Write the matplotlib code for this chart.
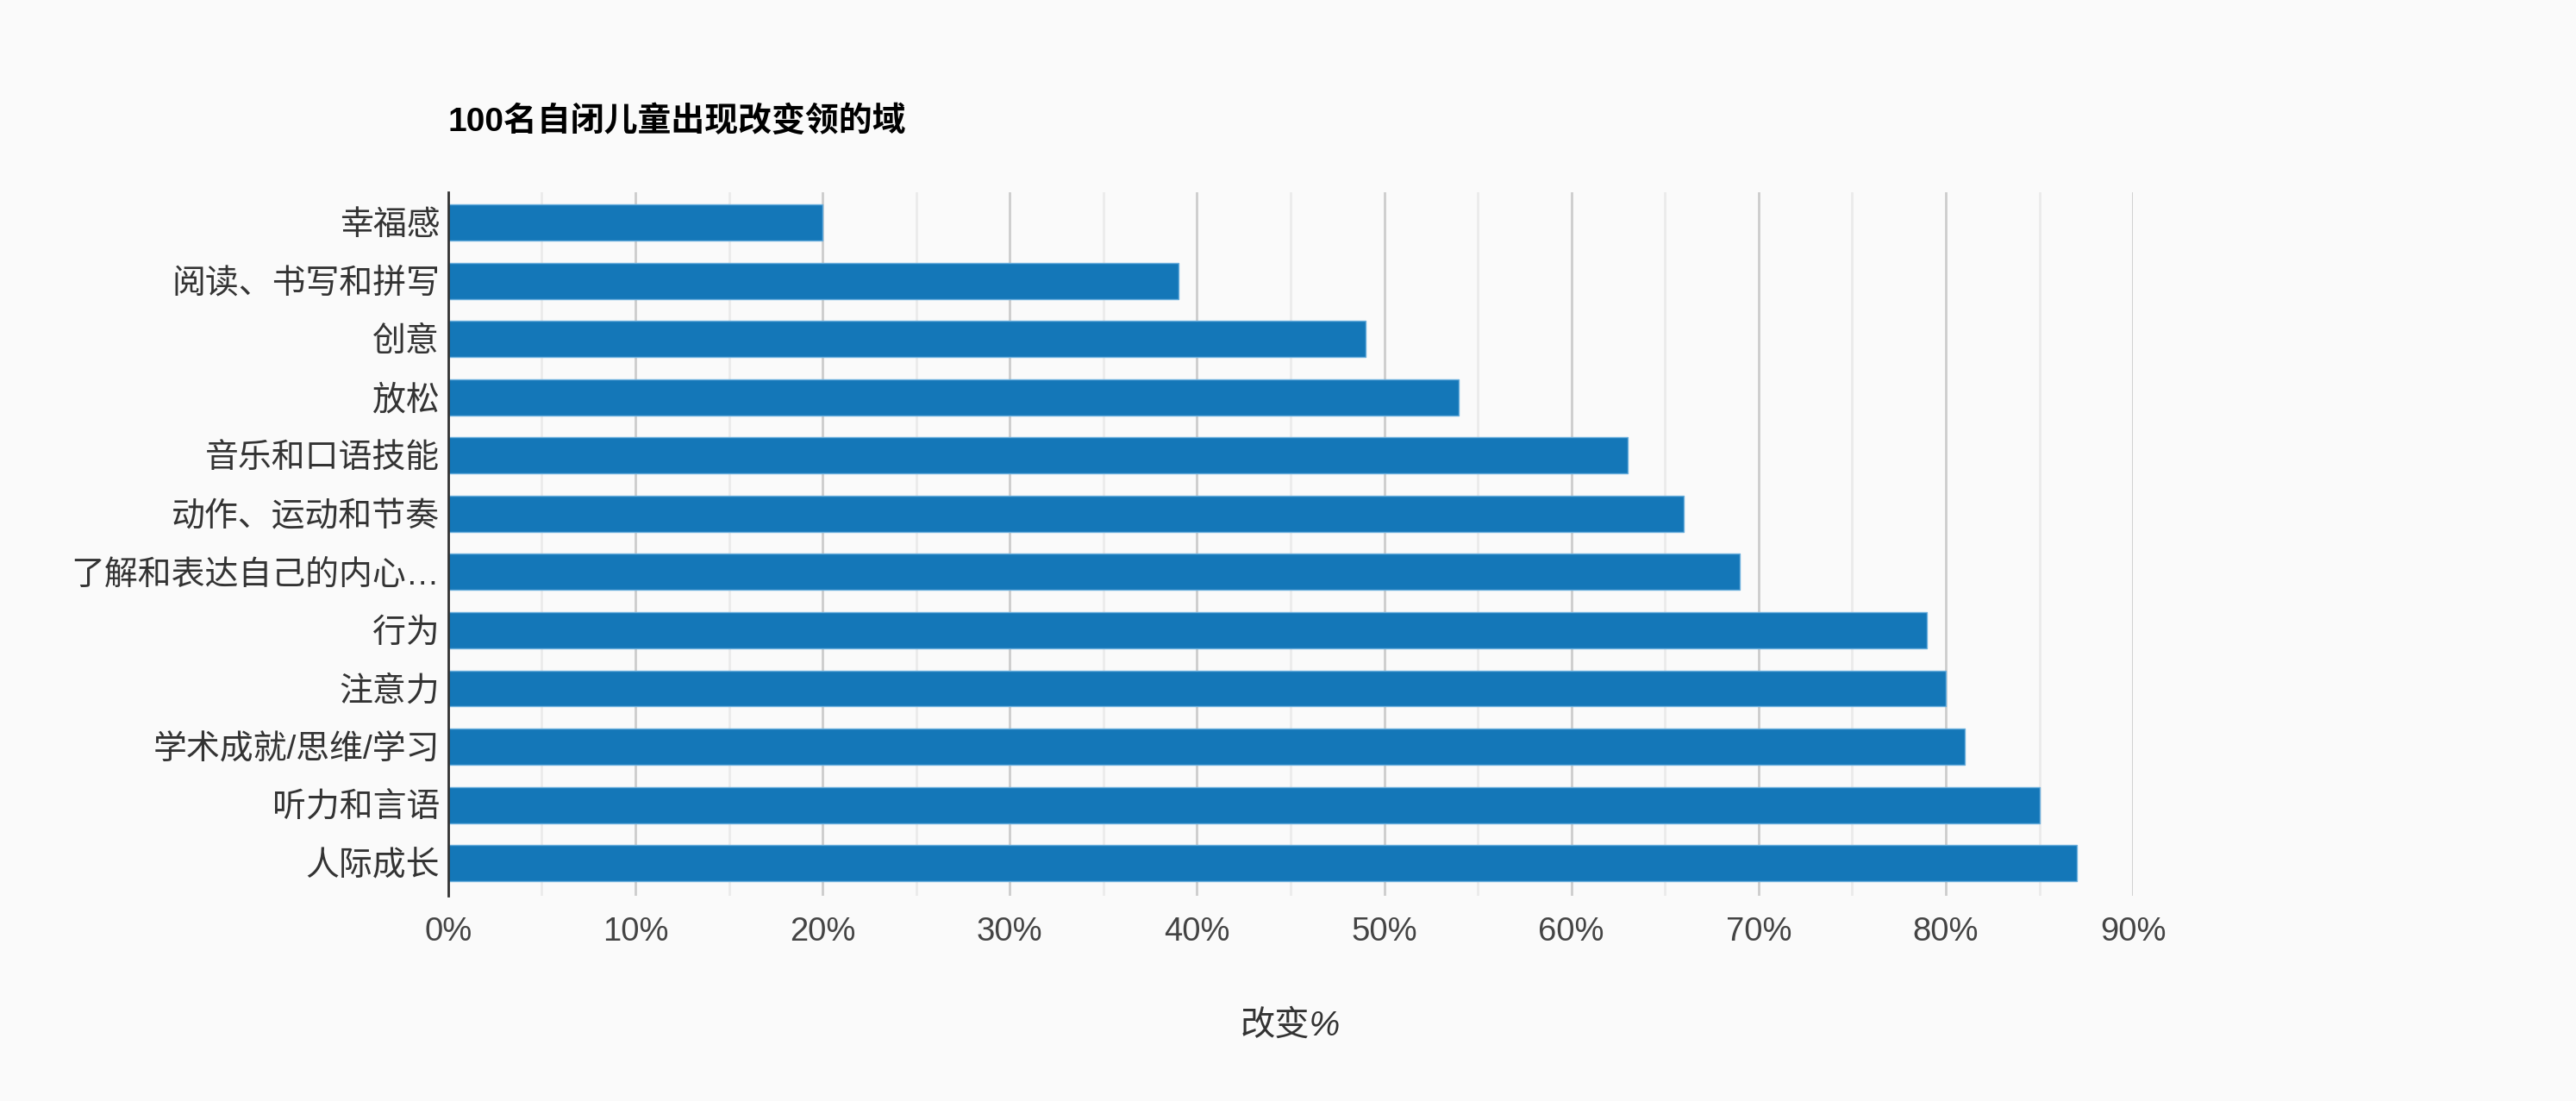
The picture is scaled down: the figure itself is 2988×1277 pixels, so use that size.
import matplotlib
matplotlib.use("Agg")
from matplotlib import pyplot as plt
from matplotlib.ticker import MultipleLocator, FuncFormatter

plt.rcParams['font.family'] = ['Liberation Sans', 'Noto Sans CJK SC', 'DejaVu Sans']

# Data (top to bottom as drawn)
categories = ["幸福感", "阅读、书写和拼写", "创意", "放松", "音乐和口语技能",
              "动作、运动和节奏", "了解和表达自己的内心…", "行为", "注意力",
              "学术成就/思维/学习", "听力和言语", "人际成长"]
values = [20, 39, 49, 54, 63, 66, 69, 79, 80, 81, 85, 87]

title = "100名自闭儿童出现改变领的域"
x_label = "改变%"

bg = "#fafafa"
bar_color = "#1477b8"

fig = plt.figure(figsize=(29.88, 12.77), dpi=100, facecolor=bg)
ax = fig.add_axes([0.174, 0.1864, 0.654, 0.639], facecolor=bg)

ypos = list(range(len(categories)))
ax.barh(ypos, values, height=0.62, color=bar_color,
        edgecolor="#6aaedc", linewidth=1.0, zorder=3)

ax.set_xlim(0, 90)
ax.set_ylim(11.56, -0.52)
ax.set_yticks(ypos)
ax.set_yticklabels(categories)

ax.xaxis.set_major_locator(MultipleLocator(10))
ax.xaxis.set_minor_locator(MultipleLocator(5))
ax.xaxis.set_major_formatter(FuncFormatter(lambda v, _: f"{v:.0f}%"))
ax.grid(which="major", axis="x", color="#cccccc", linewidth=2.0, zorder=0)
ax.grid(which="minor", axis="x", color="#ebebeb", linewidth=2.0, zorder=0)

for side in ("top", "right", "bottom"):
    ax.spines[side].set_visible(False)
ax.spines["left"].set_color("#333333")
ax.spines["left"].set_linewidth(2.0)
ax.spines["left"].set_zorder(4)

ax.tick_params(axis="x", which="both", length=0, pad=17,
               labelsize=27.5, labelcolor="#444444")
ax.tick_params(axis="y", length=0, pad=7, labelsize=28, labelcolor="#333333")

ax.set_xlabel(x_label, fontsize=29, style="italic", color="#333333",
              labelpad=52)

fig.text(0.174, 0.8896, title, fontsize=28, fontweight="bold",
         color="#000000", ha="left", va="center")

fig.savefig("out.png", dpi=100, facecolor=bg)
